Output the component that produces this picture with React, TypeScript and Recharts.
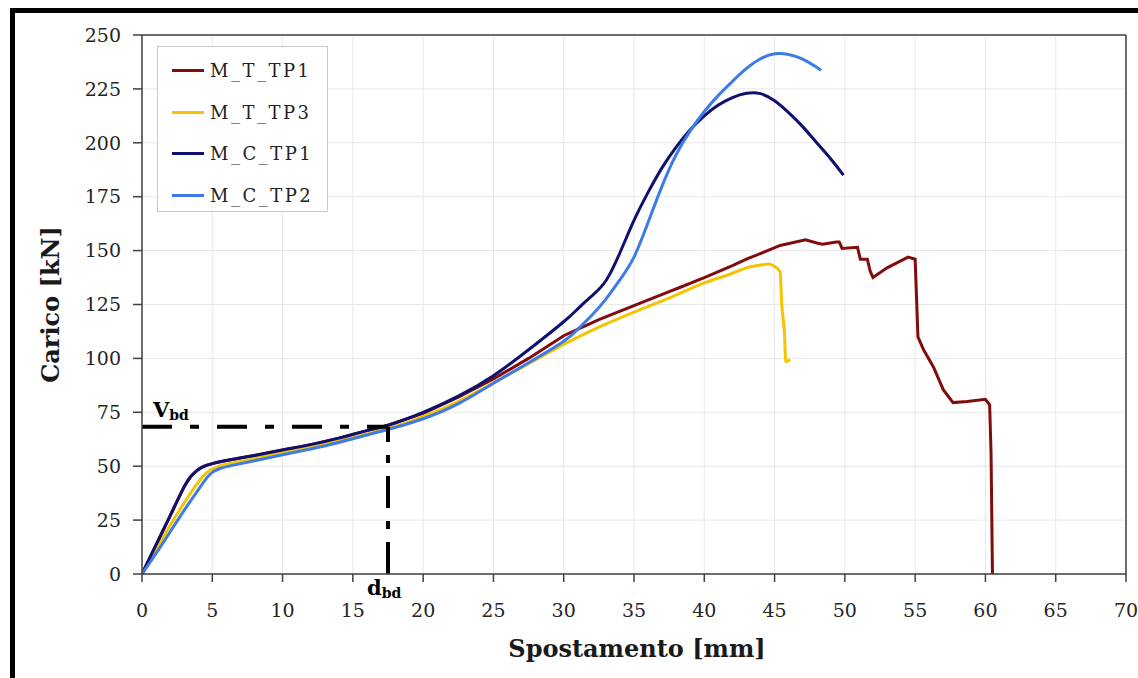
import React from 'react';
import {
  LineChart, Line, XAxis, YAxis, CartesianGrid, Legend, ReferenceLine
} from 'recharts';

// Spostamento [mm] / Carico [kN] pairs
const M_T_TP1: [number, number][] = [
  [0, 0], [1, 13.5], [2, 27], [3, 40.5], [3.5, 45.5], [4, 48.5], [4.5, 50.2], [5, 51.2],
  [6, 52.6], [8, 55], [10, 57.5], [12, 60], [14, 63], [16, 66.5], [17.5, 69],
  [20, 74.5], [22.5, 82], [25, 90.5], [27.5, 100], [30, 110.5], [32.5, 118],
  [35, 124.5], [37.5, 131], [38.3, 133], [40, 137.5], [42, 143], [43, 146],
  [45.4, 152.4], [47.2, 155], [48, 153.5], [48.4, 153], [49.4, 154], [49.6, 154],
  [49.8, 151], [50.9, 151.5], [51.1, 146], [51.6, 146], [51.8, 140.5], [52, 137.5],
  [53, 142], [54.5, 147], [55, 146], [55.2, 110], [55.6, 104], [56.3, 96],
  [57, 85.5], [57.7, 79.5], [58.7, 80], [60, 81], [60.3, 78.5], [60.4, 56], [60.5, 0],
];

const M_T_TP3: [number, number][] = [
  [0, 0], [1, 11], [2, 22.5], [3, 33], [4, 42.5], [4.6, 47], [5.5, 50], [6.5, 51.5],
  [8, 53.5], [10, 56.5], [12, 59], [14, 62], [16, 65], [17.5, 67.5], [20, 73],
  [22.5, 80], [25, 88.5], [27.5, 97.5], [30, 106.5], [32.5, 114.5], [35, 121.5],
  [37.5, 128], [40, 135], [42, 139.5], [43, 142], [44, 143.3], [44.6, 143.8],
  [45, 142.7], [45.4, 140], [45.5, 126], [45.7, 112], [45.8, 98.5], [46.1, 99.5],
];

const M_C_TP1: [number, number][] = [
  [0, 0], [1, 13.5], [2, 27], [3, 40.5], [3.5, 45.5], [4, 48.5], [4.5, 50.2], [5, 51.2],
  [6, 52.6], [8, 55], [10, 57.5], [12, 60], [14, 63], [16, 66.5], [17.5, 69],
  [20, 75], [22.5, 82.5], [25, 92], [27.5, 104], [30, 117], [31, 123], [32, 129],
  [33, 136], [34, 149], [35, 164], [36, 177], [37, 188.5], [38, 198], [39, 206],
  [40, 212.5], [41, 217.5], [42, 221], [43, 223], [44, 222.8], [45, 219.5], [46, 214],
  [47, 207.5], [48, 200], [49, 192.5], [49.9, 185],
];

const M_C_TP2: [number, number][] = [
  [0, 0], [1, 9.5], [2, 19.5], [3, 29.5], [4, 39], [4.8, 46], [5.5, 48.8], [6.5, 50.5],
  [8, 52.5], [10, 55.3], [12, 58], [14, 61], [16, 64.5], [17.5, 67], [20, 72],
  [22.5, 79], [25, 88.5], [27.5, 98], [30, 108], [31, 113.5], [32, 120], [33, 127.5],
  [34, 136.5], [35, 147], [36, 163], [37, 180], [38, 194.5], [39, 205.5], [40, 214.5],
  [41, 222], [42, 228.5], [43, 234.5], [44, 239], [45, 241.3], [46, 241],
  [47, 238.8], [48, 235], [48.3, 233.5],
];

const X_TICKS = [0, 5, 10, 15, 20, 25, 30, 35, 40, 45, 50, 55, 60, 65, 70];
const Y_TICKS = [0, 25, 50, 75, 100, 125, 150, 175, 200, 225, 250];
const LEGEND_ORDER = ['M_T_TP1', 'M_T_TP3', 'M_C_TP1', 'M_C_TP2'];

// design values marked with the dash-dot lines
const V_BD = 68.3;
const D_BD = 17.5;

const toPoints = (arr: [number, number][]) => arr.map(([x, y]) => ({ x, y }));

const FONT = '"DejaVu Serif", serif';

const renderLegend = (props: any) => {
  const payload = [...(props.payload || [])].sort(
    (a: any, b: any) => LEGEND_ORDER.indexOf(a.value) - LEGEND_ORDER.indexOf(b.value)
  );
  return (
    <div style={{
      border: '1px solid #c8c8c8', background: '#fff', width: 171, height: 166,
      boxSizing: 'border-box', padding: '3px 0 0 14px'
    }}>
      {payload.map((e: any) => (
        <div key={e.value} style={{ display: 'flex', alignItems: 'center', height: 41.5 }}>
          <span style={{ display: 'inline-block', width: 32, height: 3, background: e.color, marginRight: 6 }} />
          <span style={{ fontFamily: FONT, fontSize: 18, letterSpacing: 2.5, color: '#222' }}>{e.value}</span>
        </div>
      ))}
    </div>
  );
};

const YTitle = (props: any) => {
  const vb = props.viewBox || { x: 0, y: 35, width: 142, height: 539 };
  const cx = vb.x + 50;
  const cy = vb.y + vb.height / 2;
  return (
    <text x={cx} y={cy} transform={`rotate(-90 ${cx} ${cy})`} textAnchor="middle" dominantBaseline="central"
      fontFamily={FONT} fontWeight="bold" fontSize={24} fill="#1a1a1a">Carico [kN]</text>
  );
};

const XTitle = (props: any) => {
  const vb = props.viewBox || { x: 142, y: 574, width: 984, height: 104 };
  return (
    <text x={vb.x + vb.width / 2 + 3} y={vb.y + 83} textAnchor="middle"
      fontFamily={FONT} fontWeight="bold" fontSize={24} fill="#1a1a1a">Spostamento [mm]</text>
  );
};

const VbdLabel = (props: any) => {
  const vb = props.viewBox || { x: 142, y: 427 };
  return (
    <text x={vb.x + 11} y={vb.y - 10} fontFamily={FONT} fontWeight="bold" fontSize={21} fill="#000">
      <tspan>V</tspan><tspan fontSize={14} dy={3}>bd</tspan>
    </text>
  );
};

const DbdLabel = (props: any) => {
  const vb = props.viewBox || { x: 388, y: 427, height: 147 };
  return (
    <text x={vb.x - 21} y={vb.y + vb.height + 21} fontFamily={FONT} fontWeight="bold" fontSize={21} fill="#000">
      <tspan>d</tspan><tspan fontSize={14} dy={3}>bd</tspan>
    </text>
  );
};

const App: React.FC = () => {
  return (
    <div style={{ position: 'absolute', left: 0, top: 0, width: 1138, height: 678, overflow: 'hidden', background: '#fff' }}>
      <div style={{
        position: 'absolute', left: 10, top: 8, width: 1400, height: 900,
        borderTop: '5px solid #000', borderLeft: '5px solid #000'
      }} />
      <div style={{ position: 'absolute', left: 0, top: 0 }}>
        <LineChart width={1138} height={678} margin={{ top: 35, right: 12, left: 0, bottom: 0 }}>
          <CartesianGrid stroke="#e8e8e8" strokeWidth={1} />
          <XAxis
            type="number" dataKey="x" domain={[0, 70]} ticks={X_TICKS} allowDataOverflow
            height={104} tickSize={8} tickMargin={22}
            stroke="#404040" strokeWidth={1.5}
            tick={{ fontFamily: FONT, fontSize: 19, fill: '#262626' }}
            label={XTitle}
          />
          <YAxis
            type="number" dataKey="y" domain={[0, 250]} ticks={Y_TICKS} allowDataOverflow
            width={142} tickSize={9} tickMargin={12}
            stroke="#404040" strokeWidth={1.5}
            tick={{ fontFamily: FONT, fontSize: 19, fill: '#262626' }}
            label={YTitle}
          />
          <ReferenceLine y={250} stroke="#404040" strokeWidth={1.5} />
          <ReferenceLine x={70} stroke="#404040" strokeWidth={1.5} />
          <Legend
            layout="vertical" align="center" verticalAlign="middle"
            content={renderLegend}
            wrapperStyle={{ left: 157, top: 46, width: 171, height: 166 }}
          />
          <Line data={toPoints(M_T_TP1)} dataKey="y" name="M_T_TP1" type="linear" stroke="#800c0c"
            strokeWidth={3} dot={false} isAnimationActive={false} />
          <Line data={toPoints(M_T_TP3)} dataKey="y" name="M_T_TP3" type="monotone" stroke="#f5c400"
            strokeWidth={3} dot={false} isAnimationActive={false} />
          <Line data={toPoints(M_C_TP1)} dataKey="y" name="M_C_TP1" type="natural" stroke="#10106e"
            strokeWidth={3} dot={false} isAnimationActive={false} />
          <Line data={toPoints(M_C_TP2)} dataKey="y" name="M_C_TP2" type="natural" stroke="#3d7be8"
            strokeWidth={3} dot={false} isAnimationActive={false} />
          <ReferenceLine
            segment={[{ x: 0, y: V_BD }, { x: D_BD, y: V_BD }]}
            stroke="#000" strokeWidth={4} strokeDasharray="30 18 9 18"
            label={VbdLabel}
          />
          <ReferenceLine
            segment={[{ x: D_BD, y: 0 }, { x: D_BD, y: V_BD }]}
            stroke="#000" strokeWidth={4} strokeDasharray="32 13 8 13"
            label={DbdLabel}
          />
        </LineChart>
      </div>
    </div>
  );
};

export default App;
